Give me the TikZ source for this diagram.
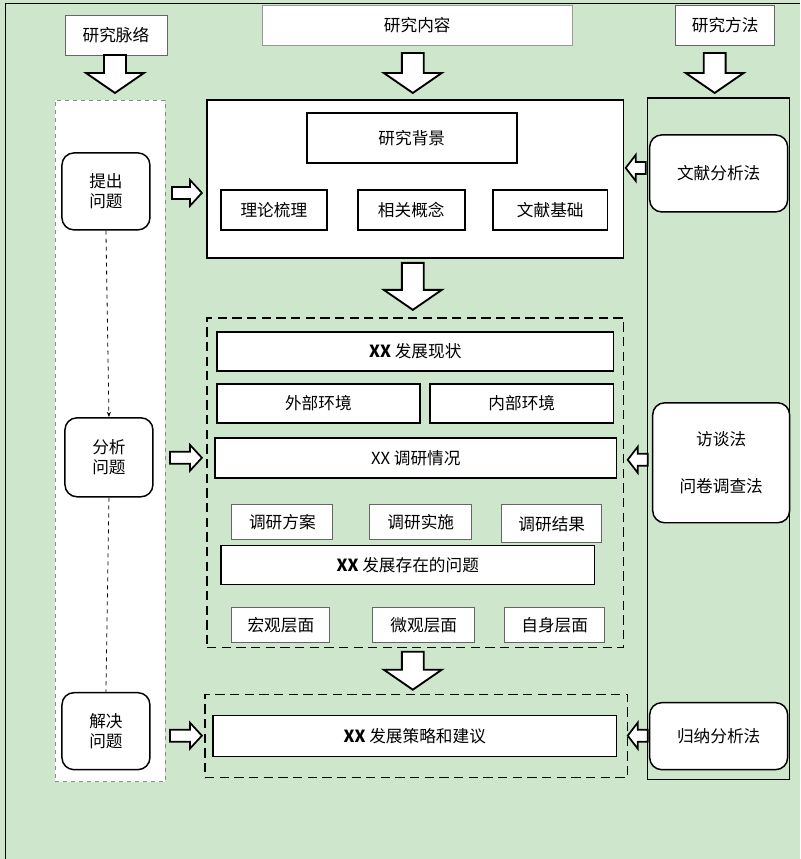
\documentclass[tikz,border=0pt]{standalone}
\usepackage{fontspec}
\setmainfont{Noto Sans CJK SC}
\usetikzlibrary{fit,arrows.meta}
\newcommand\bdown[3]{% x, ytop, ybot
  \draw[line width=1.4pt,fill=white] ({#1-11},#2) -- ({#1+11},#2) -- ({#1+11},{#3-20}) -- ({#1+29},{#3-20}) -- (#1,#3) -- ({#1-29},{#3-20}) -- ({#1-11},{#3-20}) -- cycle;}
\newcommand\bright[3]{% y, xl, xr
  \draw[line width=1.3pt,fill=white] (#2,{#1-6}) -- ({#3-12},{#1-6}) -- ({#3-12},{#1-13}) -- (#3,#1) -- ({#3-12},{#1+13}) -- ({#3-12},{#1+6}) -- (#2,{#1+6}) -- cycle;}
\newcommand\bleft[3]{% y, xl, xr
  \draw[line width=1.3pt,fill=white] (#3,{#1-6}) -- ({#2+10},{#1-6}) -- ({#2+10},{#1-13}) -- (#2,#1) -- ({#2+10},{#1+13}) -- ({#2+10},{#1+6}) -- (#3,{#1+6}) -- cycle;}
\begin{document}
\begin{tikzpicture}[x=0.75pt,y=-0.75pt,
  base/.style={inner sep=0pt,font=\fontsize{12.5}{15}\selectfont},
  bx/.style={base,draw,fill=white,line width=1.1pt},
  lbx/.style={base,draw=black!60,fill=white,line width=0.6pt},
  rbx/.style={bx,rounded corners=9pt},
  dbox/.style={draw,line width=1.1pt,dash pattern=on 7pt off 4pt,inner sep=0pt},
  t/.style={label={[base,align=center]center:#1}}]
\fill[fill={rgb,255:red,205;green,230;blue,204}] (0,0) rectangle (800,859);
\draw[line width=0.6pt] (5,859) -- (5,3) -- (800,3);
\useasboundingbox (0,0) rectangle (800,859);
% headers
\node[lbx,fit={(65,15)(167,55)},t=研究脉络] (h1) {};
\node[base,draw=black!40,fill=white,line width=0.4pt,fit={(262,5)(573,45)},t=研究内容] (h2) {};
\node[lbx,fit={(676,5)(775,45)},t=研究方法] (h3) {};
\bdown{115}{55}{93}
\bdown{413}{53}{93}
\bdown{715}{53}{93}
% left column
\node[draw=black!45,dashed,fill=white,line width=0.6pt,inner sep=0pt,fit={(55,100)(165,782)}] (lc) {};
\node[rbx,fit={(62,153)(150,230)},t={提出\\问题}] (q1) {};
\node[rbx,fit={(65,418)(153,497)},t={分析\\问题}] (q2) {};
\node[rbx,fit={(62,693)(150,770)},t={解决\\问题}] (q3) {};
\draw[dashed,line width=0.6pt,-{Stealth[length=4pt]}] (q1.south) -- (q2.north);
\draw[dashed,line width=0.6pt] (q2.south) -- (q3.north);
% right column
\node[draw,line width=1.1pt,inner sep=0pt,fit={(648,98)(790,780)}] (rc) {};
\node[rbx,fit={(650,135)(788,212)},t=文献分析法] (m1) {};
\node[rbx,fit={(653,403)(790,523)},t={访谈法\\[20pt]问卷调查法}] (m2) {};
\node[rbx,fit={(650,703)(788,770)},t=归纳分析法] (m3) {};
% top block
\node[bx,fit={(207,100)(624,258)}] (tb) {};
\node[bx,fit={(307,113)(517,163)},t=研究背景] (t0) {};
\node[bx,fit={(221,190)(327,230)},t=理论梳理] (t1) {};
\node[bx,fit={(358,190)(465,230)},t=相关概念] (t2) {};
\node[bx,fit={(493,190)(608,230)},t=文献基础] (t3) {};
\bdown{413}{263}{310}
% middle block
\node[dbox,fit={(207,318)(624,648)}] (mb) {};
\node[bx,fit={(217,332)(614,371)},t={\textbf{XX} 发展现状}] (s1) {};
\node[bx,fit={(217,384)(420,423)},t=外部环境] (s2) {};
\node[bx,fit={(430,384)(614,423)},t=内部环境] (s3) {};
\node[bx,fit={(215,438)(617,478)},t={XX 调研情况}] (s4) {};
\node[lbx,fit={(232,505)(333,540)},t=调研方案] (s5) {};
\node[lbx,fit={(370,505)(472,540)},t=调研实施] (s6) {};
\node[lbx,fit={(502,505)(602,543)},t=调研结果] (s7) {};
\node[bx,fit={(221,546)(595,585)},t={\textbf{XX} 发展存在的问题}] (s8) {};
\node[lbx,fit={(232,608)(330,643)},t=宏观层面] (s9) {};
\node[lbx,fit={(373,608)(475,643)},t=微观层面] (s10) {};
\node[lbx,fit={(505,608)(605,643)},t=自身层面] (s11) {};
\bdown{413}{652}{690}
% bottom block
\node[dbox,fit={(205,695)(628,778)}] (bb) {};
\node[bx,fit={(213,716)(617,757)},t={\textbf{XX} 发展策略和建议}] (b1) {};
% side arrows
\bright{193}{172}{202}
\bright{458}{170}{202}
\bright{736}{170}{202}
\bleft{168}{626}{646}
\bleft{460}{628}{648}
\bleft{736}{628}{648}
\end{tikzpicture}
\end{document}
